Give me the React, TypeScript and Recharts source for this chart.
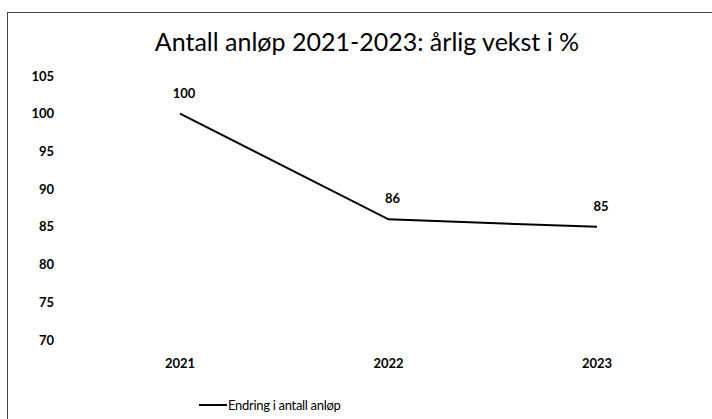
import { LineChart, Line, XAxis, YAxis, Legend, LabelList } from 'recharts';

const years = ['2021', '2022', '2023'];
const endring = [100, 86, 85];
const yTicks = [70, 75, 80, 85, 90, 95, 100, 105];

const data = years.map((year, i) => ({ year, value: endring[i] }));

const font = 'Lato, "Open Sans", sans-serif';

function LegendContent() {
  return (
    <div
      style={{
        display: 'flex',
        justifyContent: 'flex-start',
        alignItems: 'center',
        fontFamily: font,
        fontSize: 13,
        color: '#000',
        paddingLeft: 199,
        marginTop: 27,
      }}
    >
      <span style={{ display: 'inline-block', width: 28, height: 2, background: '#000', marginRight: 1 }} />
      <span style={{ letterSpacing: -0.3 }}>Endring i antall anløp</span>
    </div>
  );
}

export default function App() {
  return (
    <div style={{ position: 'absolute', left: 0, top: 0, width: 712, height: 419, background: '#fff' }}>
      <div
        style={{
          position: 'absolute',
          left: 7,
          top: 12,
          width: 705,
          height: 407,
          borderLeft: '1.5px solid #444',
          borderTop: '1.5px solid #444',
        }}
      />
      <div
        style={{
          position: 'absolute',
          left: 0,
          top: 26,
          width: 734,
          textAlign: 'center',
          fontFamily: font,
          fontSize: 25,
          color: '#000',
        }}
      >
        Antall anløp 2021-2023: årlig vekst i %
      </div>
      <LineChart
        width={712}
        height={419}
        data={data}
        margin={{ top: 76, right: 12, bottom: 2, left: 0 }}
        style={{ position: 'absolute', left: 0, top: 0 }}
      >
        <XAxis
          dataKey="year"
          axisLine={false}
          tickLine={false}
          tickMargin={13}
          height={30}
          padding={{ left: 104, right: 103 }}
          tick={{ fill: '#000', fontSize: 13, fontWeight: 700, fontFamily: font }}
        />
        <YAxis
          domain={[70, 105]}
          ticks={yTicks}
          axisLine={false}
          tickLine={false}
          width={76}
          tickMargin={16}
          tick={{ fill: '#000', fontSize: 13, fontWeight: 700, fontFamily: font }}
        />
        <Legend verticalAlign="bottom" height={47} content={<LegendContent />} />
        <Line
          type="linear"
          dataKey="value"
          stroke="#000"
          strokeWidth={2}
          dot={false}
          isAnimationActive={false}
        >
          <LabelList
            dataKey="value"
            position="top"
            offset={16}
            dx={4}
            style={{ fill: '#000', fontSize: 13, fontWeight: 700, fontFamily: font }}
          />
        </Line>
      </LineChart>
    </div>
  );
}
